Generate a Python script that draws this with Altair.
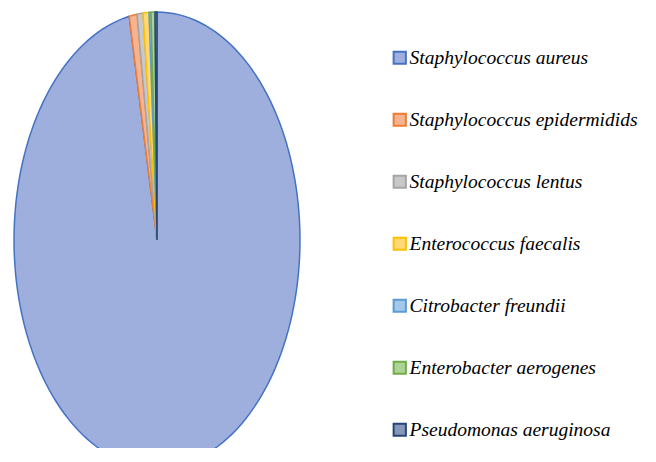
import altair as alt
import pandas as pd

names = [
    "Staphylococcus aureus",
    "Staphylococcus epidermidids",
    "Staphylococcus lentus",
    "Enterococcus faecalis",
    "Citrobacter freundii",
    "Enterobacter aerogenes",
    "Pseudomonas aeruginosa",
]
counts = [436, 4, 3, 3, 1, 2, 1]
fills = ["#9eaedd", "#f5b391", "#c8c8c8", "#ffd978", "#a4c8ec", "#add496", "#8797b8"]
strokes = ["#4472c4", "#ed7d31", "#a5a5a5", "#ffc000", "#5b9bd5", "#70ad47", "#264478"]

df = pd.DataFrame({"name": names, "count": counts, "idx": list(range(len(names)))})

N = 160
FONT = "Liberation Serif"

leg = alt.Legend(
    title=None,
    orient="none",
    legendX=382,
    legendY=40,
    symbolType="square",
    symbolSize=150,
    symbolStrokeWidth=2,
    labelOffset=0,
    rowPadding=41,
    labelLimit=400,
    labelFont=FONT,
    labelFontStyle="italic",
    labelFontSize=19.5,
    labelColor="#000000",
)

chart = (
    alt.Chart(df)
    .transform_window(cum="sum(count)", sort=[alt.SortField("idx")], frame=[None, 0])
    .transform_joinaggregate(total="sum(count)")
    .transform_calculate(
        a0="2*PI*(datum.cum-datum.count)/datum.total",
        a1="2*PI*datum.cum/datum.total",
        pts=f"sequence(-1, {N + 2})",
    )
    .transform_flatten(["pts"])
    .transform_calculate(
        ang=f"datum.a0 + (datum.a1-datum.a0)*clamp(datum.pts,0,{N})/{N}",
        edge=f"(datum.pts>=0 && datum.pts<={N}) ? 1 : 0",
    )
    .transform_calculate(
        px="datum.edge*sin(datum.ang)",
        py="datum.edge*cos(datum.ang)",
    )
    .mark_line(strokeWidth=1.5, clip=True, strokeJoin="round")
    .encode(
        x=alt.X("px:Q", scale=alt.Scale(domain=[-1.042, 3.434], nice=False, zero=False), axis=None),
        y=alt.Y("py:Q", scale=alt.Scale(domain=[-0.9123, 1.0175], nice=False, zero=False), axis=None),
        order=alt.Order("pts:Q"),
        detail="name:N",
        fill=alt.Fill("name:N", scale=alt.Scale(domain=names, range=fills), legend=leg),
        stroke=alt.Stroke("name:N", scale=alt.Scale(domain=names, range=strokes), legend=None),
    )
    .properties(width=640, height=440, padding=0, autosize=alt.AutoSizeParams(type="none"))
    .configure(font=FONT)
    .configure_view(stroke=None)
    .configure_legend(
        labelFont=FONT,
        labelFontStyle="italic",
        labelFontSize=19.5,
        labelColor="#000000",
    )
)

chart.save("out.html", embed_options={"renderer": "svg", "actions": False})
